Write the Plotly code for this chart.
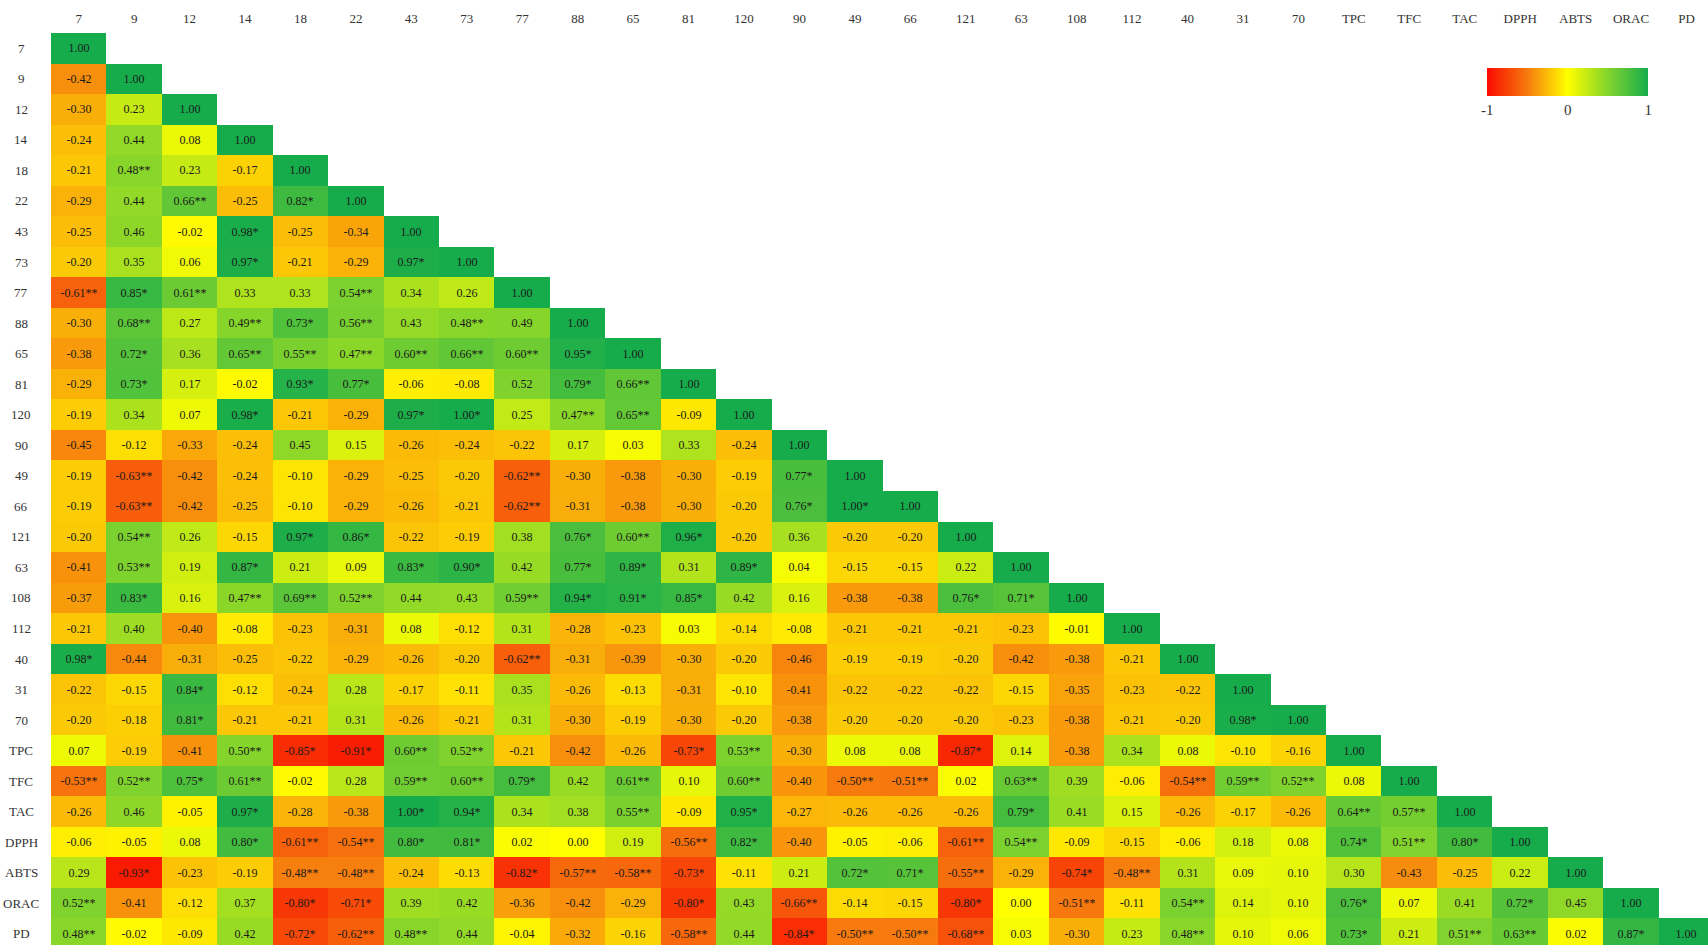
import plotly.graph_objects as go

# Variable names, in matrix order
labels = ["7", "9", "12", "14", "18", "22", "43", "73", "77", "88", "65", "81",
          "120", "90", "49", "66", "121", "63", "108", "112", "40", "31", "70",
          "TPC", "TFC", "TAC", "DPPH", "ABTS", "ORAC", "PD"]

# Lower-triangle Pearson coefficients; * p<0.05, ** p<0.01
corr_rows = [
    ["1.00"],
    ["-0.42", "1.00"],
    ["-0.30", "0.23", "1.00"],
    ["-0.24", "0.44", "0.08", "1.00"],
    ["-0.21", "0.48**", "0.23", "-0.17", "1.00"],
    ["-0.29", "0.44", "0.66**", "-0.25", "0.82*", "1.00"],
    ["-0.25", "0.46", "-0.02", "0.98*", "-0.25", "-0.34", "1.00"],
    ["-0.20", "0.35", "0.06", "0.97*", "-0.21", "-0.29", "0.97*", "1.00"],
    ["-0.61**", "0.85*", "0.61**", "0.33", "0.33", "0.54**", "0.34", "0.26", "1.00"],
    ["-0.30", "0.68**", "0.27", "0.49**", "0.73*", "0.56**", "0.43", "0.48**", "0.49", "1.00"],
    ["-0.38", "0.72*", "0.36", "0.65**", "0.55**", "0.47**", "0.60**", "0.66**", "0.60**", "0.95*", "1.00"],
    ["-0.29", "0.73*", "0.17", "-0.02", "0.93*", "0.77*", "-0.06", "-0.08", "0.52", "0.79*", "0.66**", "1.00"],
    ["-0.19", "0.34", "0.07", "0.98*", "-0.21", "-0.29", "0.97*", "1.00*", "0.25", "0.47**", "0.65**", "-0.09", "1.00"],
    ["-0.45", "-0.12", "-0.33", "-0.24", "0.45", "0.15", "-0.26", "-0.24", "-0.22", "0.17", "0.03", "0.33", "-0.24", "1.00"],
    ["-0.19", "-0.63**", "-0.42", "-0.24", "-0.10", "-0.29", "-0.25", "-0.20", "-0.62**", "-0.30", "-0.38", "-0.30", "-0.19", "0.77*", "1.00"],
    ["-0.19", "-0.63**", "-0.42", "-0.25", "-0.10", "-0.29", "-0.26", "-0.21", "-0.62**", "-0.31", "-0.38", "-0.30", "-0.20", "0.76*", "1.00*", "1.00"],
    ["-0.20", "0.54**", "0.26", "-0.15", "0.97*", "0.86*", "-0.22", "-0.19", "0.38", "0.76*", "0.60**", "0.96*", "-0.20", "0.36", "-0.20", "-0.20", "1.00"],
    ["-0.41", "0.53**", "0.19", "0.87*", "0.21", "0.09", "0.83*", "0.90*", "0.42", "0.77*", "0.89*", "0.31", "0.89*", "0.04", "-0.15", "-0.15", "0.22", "1.00"],
    ["-0.37", "0.83*", "0.16", "0.47**", "0.69**", "0.52**", "0.44", "0.43", "0.59**", "0.94*", "0.91*", "0.85*", "0.42", "0.16", "-0.38", "-0.38", "0.76*", "0.71*", "1.00"],
    ["-0.21", "0.40", "-0.40", "-0.08", "-0.23", "-0.31", "0.08", "-0.12", "0.31", "-0.28", "-0.23", "0.03", "-0.14", "-0.08", "-0.21", "-0.21", "-0.21", "-0.23", "-0.01", "1.00"],
    ["0.98*", "-0.44", "-0.31", "-0.25", "-0.22", "-0.29", "-0.26", "-0.20", "-0.62**", "-0.31", "-0.39", "-0.30", "-0.20", "-0.46", "-0.19", "-0.19", "-0.20", "-0.42", "-0.38", "-0.21", "1.00"],
    ["-0.22", "-0.15", "0.84*", "-0.12", "-0.24", "0.28", "-0.17", "-0.11", "0.35", "-0.26", "-0.13", "-0.31", "-0.10", "-0.41", "-0.22", "-0.22", "-0.22", "-0.15", "-0.35", "-0.23", "-0.22", "1.00"],
    ["-0.20", "-0.18", "0.81*", "-0.21", "-0.21", "0.31", "-0.26", "-0.21", "0.31", "-0.30", "-0.19", "-0.30", "-0.20", "-0.38", "-0.20", "-0.20", "-0.20", "-0.23", "-0.38", "-0.21", "-0.20", "0.98*", "1.00"],
    ["0.07", "-0.19", "-0.41", "0.50**", "-0.85*", "-0.91*", "0.60**", "0.52**", "-0.21", "-0.42", "-0.26", "-0.73*", "0.53**", "-0.30", "0.08", "0.08", "-0.87*", "0.14", "-0.38", "0.34", "0.08", "-0.10", "-0.16", "1.00"],
    ["-0.53**", "0.52**", "0.75*", "0.61**", "-0.02", "0.28", "0.59**", "0.60**", "0.79*", "0.42", "0.61**", "0.10", "0.60**", "-0.40", "-0.50**", "-0.51**", "0.02", "0.63**", "0.39", "-0.06", "-0.54**", "0.59**", "0.52**", "0.08", "1.00"],
    ["-0.26", "0.46", "-0.05", "0.97*", "-0.28", "-0.38", "1.00*", "0.94*", "0.34", "0.38", "0.55**", "-0.09", "0.95*", "-0.27", "-0.26", "-0.26", "-0.26", "0.79*", "0.41", "0.15", "-0.26", "-0.17", "-0.26", "0.64**", "0.57**", "1.00"],
    ["-0.06", "-0.05", "0.08", "0.80*", "-0.61**", "-0.54**", "0.80*", "0.81*", "0.02", "0.00", "0.19", "-0.56**", "0.82*", "-0.40", "-0.05", "-0.06", "-0.61**", "0.54**", "-0.09", "-0.15", "-0.06", "0.18", "0.08", "0.74*", "0.51**", "0.80*", "1.00"],
    ["0.29", "-0.93*", "-0.23", "-0.19", "-0.48**", "-0.48**", "-0.24", "-0.13", "-0.82*", "-0.57**", "-0.58**", "-0.73*", "-0.11", "0.21", "0.72*", "0.71*", "-0.55**", "-0.29", "-0.74*", "-0.48**", "0.31", "0.09", "0.10", "0.30", "-0.43", "-0.25", "0.22", "1.00"],
    ["0.52**", "-0.41", "-0.12", "0.37", "-0.80*", "-0.71*", "0.39", "0.42", "-0.36", "-0.42", "-0.29", "-0.80*", "0.43", "-0.66**", "-0.14", "-0.15", "-0.80*", "0.00", "-0.51**", "-0.11", "0.54**", "0.14", "0.10", "0.76*", "0.07", "0.41", "0.72*", "0.45", "1.00"],
    ["0.48**", "-0.02", "-0.09", "0.42", "-0.72*", "-0.62**", "0.48**", "0.44", "-0.04", "-0.32", "-0.16", "-0.58**", "0.44", "-0.84*", "-0.50**", "-0.50**", "-0.68**", "0.03", "-0.30", "0.23", "0.48**", "0.10", "0.06", "0.73*", "0.21", "0.51**", "0.63**", "0.02", "0.87*", "1.00"],
]

# Red -> orange -> yellow -> green diverging scale over r in [-1, 1]
colorscale = [
    [0.0, "rgb(250,10,0)"],
    [0.25, "rgb(246,122,14)"],
    [0.5, "rgb(255,255,0)"],
    [0.75, "rgb(132,212,44)"],
    [1.0, "rgb(22,172,76)"],
]

n = len(labels)
z = [[None] * n for _ in range(n)]
text = [[""] * n for _ in range(n)]
for i, row in enumerate(corr_rows):
    for j, s in enumerate(row):
        z[i][j] = float(s.rstrip("*"))
        text[i][j] = s

W, H = 1708, 945
ML, MT = 51, 33
cell_w, cell_h = 55.44, 30.54
plot_w, plot_h = W - ML, H - MT

serif = "Liberation Serif"

fig = go.Figure(go.Heatmap(
    z=z, x=labels, y=labels, text=text, texttemplate="%{text}",
    textfont=dict(family=serif, size=12, color="#1a1a1a"),
    colorscale=colorscale, zmin=-1, zmax=1, hoverongaps=False,
    xgap=0, ygap=0,
    colorbar=dict(
        orientation="h", xref="container", yref="container",
        x=1616 / W, xanchor="center", y=1 - 68 / H, yanchor="top",
        lenmode="pixels", len=161, thickness=28, outlinewidth=0,
        xpad=0, ypad=0, tickvals=[-1, 0, 1], ticktext=["-1", "0", "1"],
        ticks="", tickfont=dict(family=serif, size=15, color="#333"),
    ),
))

# Row names, centred in the left margin (positioned by row index)
for i, lab in enumerate(labels):
    fig.add_annotation(x=(21 - ML) / plot_w, xref="paper", y=i, yref="y",
                       text=lab, showarrow=False, xanchor="center",
                       font=dict(family=serif, size=13, color="#333"))

fig.update_layout(
    width=W, height=H,
    margin=dict(l=ML, r=0, t=MT, b=0, autoexpand=False),
    paper_bgcolor="white", plot_bgcolor="white",
    xaxis=dict(side="top", range=[-0.5, -0.5 + plot_w / cell_w], showgrid=False,
               zeroline=False, ticks="", showline=False, ticklabelstandoff=6,
               tickfont=dict(family=serif, size=13, color="#333")),
    yaxis=dict(range=[-0.5 + plot_h / cell_h, -0.5], showgrid=False,
               zeroline=False, showticklabels=False, ticks="", showline=False),
)

fig.write_html("out.html")
